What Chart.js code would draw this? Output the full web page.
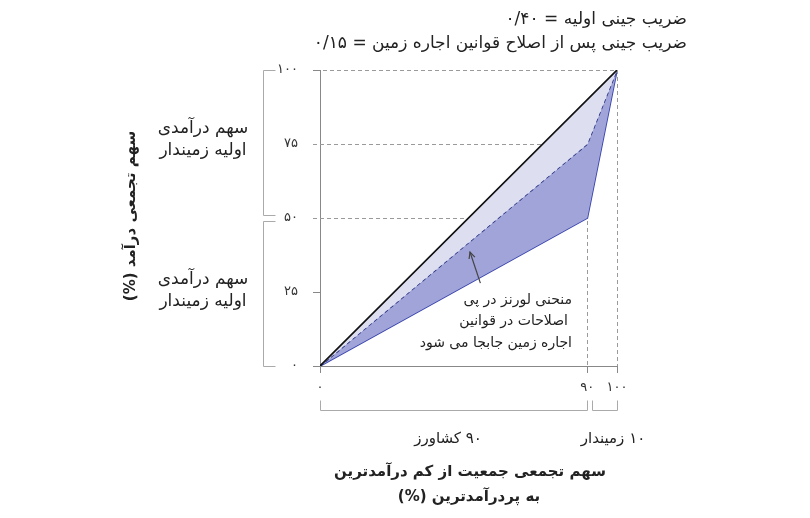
<!DOCTYPE html>
<html><head><meta charset="utf-8">
<script src="https://cdn.jsdelivr.net/npm/chart.js@4"></script>
<style>html,body{margin:0;padding:0;background:#fff}canvas{display:block}</style>
</head><body>
<canvas id="c" width="810" height="518"></canvas>
<script>
// ---- data ----
const equalityX = [0, 90, 100];
const equalityY = [0, 90, 100];
const reformX = [0, 90, 100];
const reformY = [0, 75, 100];
const originalX = [0, 90, 100];
const originalY = [0, 50, 100];
const xTickValues = [0, 90, 100];
const xTickLabels = ['۰', '۹۰', '۱۰۰'];
const yTickValues = [0, 25, 50, 75, 100];
const yTickLabels = ['۰', '۲۵', '۵۰', '۷۵', '۱۰۰'];
const titleLines = ['ضریب جینی اولیه = ۰/۴۰', 'ضریب جینی پس از اصلاح قوانین اجاره زمین = ۰/۱۵'];
const yAxisTitle = 'سهم تجمعی درآمد (%)';
const xAxisTitle = ['سهم تجمعی جمعیت از کم درآمدترین', 'به پردرآمدترین (%)'];
const yBracketLabels = [['سهم درآمدی', 'اولیه زمیندار'], ['سهم درآمدی', 'اولیه زمیندار']];
const xBracketLabels = ['۹۰ کشاورز', '۱۰ زمیندار'];
const annotationLines = ['منحنی لورنز در پی', 'اصلاحات در قوانین', 'اجاره زمین جابجا می شود'];

const FONT = "'DejaVu Sans', sans-serif";
const pts = (xs, ys) => xs.map((x, i) => ({x, y: ys[i]}));

const extras = {
  id: 'extras',
  beforeDatasetsDraw(chart) {
    const {ctx, scales: {x, y}} = chart;
    ctx.save();
    ctx.strokeStyle = '#9a9a9a';
    ctx.lineWidth = 1;
    ctx.setLineDash([4, 3]);
    // guides from the curve kink points to the axes
    const kinks = [{x: originalX[1], y: originalY[1]}, {x: reformX[1], y: reformY[1]}, {x: originalX[2], y: originalY[2]}];
    kinks.forEach((p) => {
      const px = x.getPixelForValue(p.x), py = Math.round(y.getPixelForValue(p.y)) + 0.5;
      const ext = p.y === 100 ? 3 : -7;
      ctx.beginPath(); ctx.moveTo(x.left + ext, py); ctx.lineTo(px, py); ctx.stroke();
    });
    // verticals
    [[reformX[1], reformY[1]], [originalX[2], originalY[2]]].forEach(([vx, vy]) => {
      const px = Math.round(x.getPixelForValue(vx)) + 0.5;
      ctx.beginPath(); ctx.moveTo(px, y.getPixelForValue(vy)); ctx.lineTo(px, y.bottom); ctx.stroke();
    });
    ctx.restore();
  },
  afterDraw(chart) {
    const {ctx, scales: {x, y}} = chart;
    ctx.save();
    ctx.fillStyle = '#222';
    ctx.direction = 'rtl';
    ctx.textBaseline = 'middle';
    // title
    ctx.font = '17px ' + FONT;
    ctx.textAlign = 'right';
    ctx.fillText(titleLines[0], 687, 20);
    ctx.fillText(titleLines[1], 687, 44);

    // y brackets
    ctx.strokeStyle = '#aaa'; ctx.lineWidth = 1; ctx.setLineDash([]);
    const bx = 263.5, tab = 12;
    const yb = [[y.getPixelForValue(100), y.getPixelForValue(50) - 3], [y.getPixelForValue(50) + 3, y.getPixelForValue(0)]];
    yb.forEach(([t, b], i) => {
      ctx.beginPath();
      ctx.moveTo(bx + tab, t + 0.5); ctx.lineTo(bx, t + 0.5); ctx.lineTo(bx, b + 0.5); ctx.lineTo(bx + tab, b + 0.5);
      ctx.stroke();
      const mid = (t + b) / 2 - 3;
      ctx.font = '17px ' + FONT;
      ctx.textAlign = 'center';
      ctx.fillText(yBracketLabels[i][0], 203, mid - 11);
      ctx.fillText(yBracketLabels[i][1], 203, mid + 11);
    });
    // y axis title
    ctx.save();
    ctx.translate(131, 216);
    ctx.rotate(-Math.PI / 2);
    ctx.font = 'bold 15px ' + FONT;
    ctx.textAlign = 'center';
    ctx.fillText(yAxisTitle, 0, 0);
    ctx.restore();

    // x brackets
    const xb = [[x.getPixelForValue(0), x.getPixelForValue(90)], [x.getPixelForValue(90) + 5, x.getPixelForValue(100)]];
    const by = 410.5;
    xb.forEach(([l, r]) => {
      ctx.beginPath();
      ctx.moveTo(Math.round(l) + 0.5, by - 10); ctx.lineTo(Math.round(l) + 0.5, by);
      ctx.lineTo(Math.round(r) + 0.5, by); ctx.lineTo(Math.round(r) + 0.5, by - 10);
      ctx.stroke();
    });
    ctx.font = '15px ' + FONT;
    ctx.textAlign = 'center';
    ctx.fillText(xBracketLabels[0], 448, 439);
    ctx.fillText(xBracketLabels[1], 613, 439);
    // x title
    ctx.font = 'bold 15px ' + FONT;
    ctx.fillText(xAxisTitle[0], 470, 472);
    ctx.fillText(xAxisTitle[1], 469, 497);

    // annotation
    ctx.font = '14px ' + FONT;
    ctx.textAlign = 'right';
    ctx.fillText(annotationLines[0], 572, 300);
    ctx.fillText(annotationLines[1], 568, 321);
    ctx.fillText(annotationLines[2], 572, 343);
    // arrow
    const tx = x.getPixelForValue(54), ty = y.getPixelForValue(28);
    const hx = x.getPixelForValue(50.5), hy = y.getPixelForValue(38.5);
    ctx.strokeStyle = '#444'; ctx.lineWidth = 1.2;
    ctx.beginPath(); ctx.moveTo(tx, ty); ctx.lineTo(hx, hy); ctx.stroke();
    const ang = Math.atan2(hy - ty, hx - tx);
    ctx.beginPath();
    ctx.moveTo(hx - 7 * Math.cos(ang - 0.45), hy - 7 * Math.sin(ang - 0.45));
    ctx.lineTo(hx, hy);
    ctx.lineTo(hx - 7 * Math.cos(ang + 0.45), hy - 7 * Math.sin(ang + 0.45));
    ctx.stroke();
    ctx.restore();
  }
};

new Chart(document.getElementById('c'), {
  type: 'line',
  data: {
    datasets: [
      {data: pts(equalityX, equalityY), borderColor: '#111', borderWidth: 1.6, pointRadius: 0,
       fill: {target: 1}, backgroundColor: 'rgba(221,223,241,1)', tension: 0},
      {data: pts(reformX, reformY), borderColor: '#27327f', borderWidth: 1.6, borderDash: [4, 3], pointRadius: 0,
       fill: {target: 2}, backgroundColor: 'rgba(160,164,216,1)', tension: 0},
      {data: pts(originalX, originalY), borderColor: '#3843ad', borderWidth: 1.8, pointRadius: 0, fill: false, tension: 0}
    ]
  },
  options: {
    responsive: false,
    animation: false,
    devicePixelRatio: 1,
    layout: {padding: {top: 70, right: 193, left: 0, bottom: 0}},
    plugins: {legend: {display: false}, tooltip: {enabled: false}},
    scales: {
      x: {
        type: 'linear', min: 0, max: 100,
        afterFit(s) { s.height = 152; },
        afterBuildTicks(s) { s.ticks = xTickValues.map(v => ({value: v})); },
        border: {color: '#888', width: 1},
        grid: {drawOnChartArea: false, tickLength: 7, color: '#888'},
        ticks: {autoSkip: false, maxRotation: 0, padding: 7, color: '#333', font: {family: FONT, size: 13},
          callback: (v) => xTickLabels[xTickValues.indexOf(v)]}
      },
      y: {
        type: 'linear', min: 0, max: 100,
        afterFit(s) { s.width = 320; },
        afterBuildTicks(s) { s.ticks = yTickValues.map(v => ({value: v})); },
        border: {color: '#888', width: 1},
        grid: {drawOnChartArea: false, tickLength: 7,
          color: (c) => (c.tick && (c.tick.value === 50 || c.tick.value === 75)) ? 'rgba(0,0,0,0)' : '#888'},
        ticks: {autoSkip: false, padding: 15, color: '#333', font: {family: FONT, size: 13},
          callback: (v) => yTickLabels[yTickValues.indexOf(v)]}
      }
    }
  },
  plugins: [extras]
});
</script>
</body></html>
